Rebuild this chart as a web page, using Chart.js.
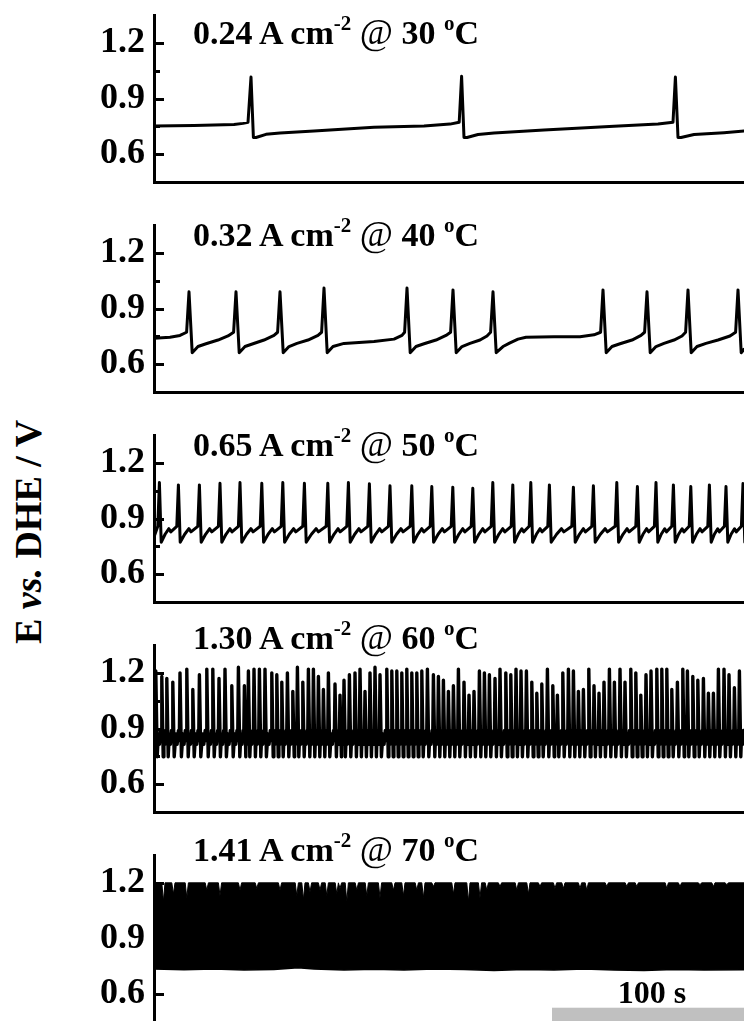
<!DOCTYPE html>
<html>
<head>
<meta charset="utf-8">
<script src="https://cdn.jsdelivr.net/npm/chart.js@4.4.1/dist/chart.umd.min.js"></script>
<style>
  html, body { margin: 0; padding: 0; background: #fff; overflow: hidden; }
  body { width: 744px; height: 1021px; position: relative; font-family: 'Liberation Serif', 'Times New Roman', serif; color: #000; }
  .panel { position: absolute; left: 0; width: 744px; height: 207px; }
  .panel canvas { display: block; }
  .title { position: absolute; left: 193px; font-size: 34px; line-height: 34px; font-weight: bold; white-space: nowrap; z-index: 2; }
  .title sup { font-size: 21px; position: relative; top: -14px; vertical-align: baseline; }
  .title .at { font-weight: normal; font-size: 36px; }
  .ylabel { position: absolute; left: 28px; top: 532px; transform: translate(-50%, -50%) rotate(-90deg);
            font-size: 38px; font-weight: bold; white-space: nowrap; }
</style>
</head>
<body>
<div class="ylabel">E <i>vs.</i> DHE / V</div>
<script>
// ---- axes (time in s, potential in V) ----
const X_MIN = 0, X_MAX = 295;
const Y_MIN = 0.45, Y_MAX = 1.35;
const MAJOR_TICKS = [0.6, 0.9, 1.2];
const MINOR_TICKS = [0.75, 1.05];

// ---- panel labels ----
const currents = ['0.24', '0.32', '0.65', '1.30', '1.41'];
const temps = ['30', '40', '50', '60', '70'];

// ---- 0.24 A cm-2 @ 30 C ----
const p1Time = [0, 20, 40, 44.5, 47, 48.5, 49.7, 51, 56, 63, 80, 110, 135, 148, 152.6,
                153.8, 155, 156.5, 162, 170, 195, 230, 252, 259.5, 260.7, 262, 263.5, 270, 285, 295];
const p1Volt = [0.752, 0.755, 0.76, 0.766, 0.772, 1.016, 0.69, 0.69, 0.707, 0.714, 0.725, 0.745, 0.752, 0.762, 0.772,
                1.02, 0.69, 0.69, 0.706, 0.714, 0.73, 0.75, 0.762, 0.772, 1.016, 0.69, 0.69, 0.706, 0.716, 0.725];

// ---- 0.32 A cm-2 @ 40 C ----
const p2Time = [0, 8, 13, 16.3, 17.5, 19.1,
                22, 26, 32, 37, 39.8, 41, 42.6,
                45.5, 49.5, 55, 60, 61.8, 63, 64.6,
                67.5, 71.5, 77, 82, 83.8, 85, 86.6,
                89.5, 95, 110, 120, 124, 125.3, 126.5, 128.1,
                131, 135, 141, 146, 148.3, 149.5, 151.1,
                154, 158, 163, 166.5, 168.3, 169.5, 171.1,
                174.5, 178, 182, 186, 200, 213, 220, 223.3, 224.5, 226.1,
                229, 233, 239, 243.5, 245.3, 246.5, 248.1,
                251, 255, 260, 264, 265.8, 267, 268.6,
                271.5, 276, 282, 288, 290.8, 292, 293.6, 295];
const p2Volt = [0.74, 0.745, 0.755, 0.772, 0.99, 0.662,
                0.695, 0.71, 0.73, 0.752, 0.772, 0.99, 0.662,
                0.695, 0.71, 0.73, 0.755, 0.772, 0.99, 0.662,
                0.695, 0.712, 0.73, 0.755, 0.772, 1.01, 0.662,
                0.695, 0.712, 0.722, 0.735, 0.755, 0.772, 1.01, 0.662,
                0.695, 0.71, 0.73, 0.755, 0.772, 1.0, 0.662,
                0.695, 0.712, 0.73, 0.752, 0.772, 0.99, 0.662,
                0.695, 0.715, 0.735, 0.745, 0.748, 0.748, 0.758, 0.772, 1.0, 0.662,
                0.695, 0.71, 0.73, 0.755, 0.772, 0.99, 0.662,
                0.695, 0.712, 0.73, 0.752, 0.772, 1.0, 0.662,
                0.695, 0.712, 0.73, 0.752, 0.772, 1.0, 0.662, 0.68];

// ---- 0.65 A cm-2 @ 50 C ----
const p3SpikeTime = [2.7, 12.2, 22.7, 33.0, 43.0, 53.9, 64.4, 75.2, 86.9, 97.2, 107.7, 118.0, 128.9, 138.9, 149.4,
                     159.4, 169.4, 179.4, 188.4, 197.7, 209.7, 219.7, 231.4, 241.7, 251.0, 259.7, 268.4, 277.7, 286.0, 294.5];
const p3SpikePeak = [1.094, 1.081, 1.081, 1.09, 1.094, 1.09, 1.094, 1.09, 1.09, 1.094, 1.087, 1.076, 1.076, 1.072, 1.069,
                     1.063, 1.094, 1.081, 1.094, 1.081, 1.069, 1.076, 1.094, 1.072, 1.094, 1.081, 1.072, 1.081, 1.072, 1.088];
const p3Levels = [0.772, 0.815, 0.845, 0.828, 0.858];   // trough, rise, bump, dip, pre-spike

// ---- 1.30 A cm-2 @ 60 C ----
const p4SpikeTime = [0.9, 3.9, 6.4, 9.4, 13.0, 16.4, 19.4, 22.7, 26.4, 29.4, 32.5, 35.5, 38.9, 42.2, 45.2,
                     47.2, 50.0, 52.7, 55.5, 58.9, 61.4, 63.9, 66.7, 69.4, 71.7, 74.4, 77.2, 79.7, 82.2, 84.7,
                     87.2, 90.5, 93.0, 95.0, 97.7, 100.5, 103.0, 105.5, 108.0, 110.5, 113.0, 116.4, 118.9, 121.4, 123.9,
                     126.4, 128.9, 131.4, 133.9, 136.7, 139.7, 142.2,
                     144.7, 147.2, 149.7, 152.2, 155.0, 157.5, 160.0, 162.7, 165.2, 167.7, 170.5, 173.0, 175.9, 178.4, 181.0,
                     183.5, 186.2, 188.9, 191.4, 193.9, 196.7, 199.4, 201.7, 204.4, 207.2, 209.7, 212.2, 214.7, 217.4, 220.0,
                     222.5, 225.0, 227.7, 230.2, 233.0, 235.5, 238.4, 240.9, 243.4, 246.0, 248.5, 251.4, 253.9, 256.4, 258.9,
                     261.7, 264.4, 266.7, 269.4, 271.9, 274.7, 277.2, 279.7, 282.2, 285.0, 287.5, 290.2, 292.7];
const p4SpikePeak = [1.21, 1.18, 1.17, 1.15, 1.20, 1.22, 1.11, 1.19, 1.22, 1.22, 1.17, 1.22, 1.13, 1.23, 1.13,
                     1.21, 1.22, 1.22, 1.22, 1.20, 1.19, 1.15, 1.20, 1.10, 1.23, 1.15, 1.22, 1.22, 1.18, 1.11,
                     1.20, 1.14, 1.08, 1.16, 1.19, 1.20, 1.22, 1.10, 1.20, 1.23, 1.19, 1.22, 1.21, 1.21, 1.20,
                     1.22, 1.20, 1.20, 1.21, 1.22, 1.19, 1.18,
                     1.16, 1.10, 1.13, 1.22, 1.15, 1.08, 1.10, 1.21, 1.20, 1.19, 1.17, 1.22, 1.20, 1.19, 1.22,
                     1.21, 1.21, 1.15, 1.09, 1.14, 1.22, 1.13, 1.08, 1.20, 1.22, 1.21, 1.10, 1.11, 1.22, 1.13,
                     1.09, 1.15, 1.22, 1.15, 1.22, 1.15, 1.22, 1.20, 1.08, 1.19, 1.21, 1.22, 1.22, 1.22, 1.11,
                     1.15, 1.22, 1.21, 1.18, 1.16, 1.17, 1.09, 1.09, 1.22, 1.22, 1.19, 1.12, 1.21];
const p4Levels = [0.748, 0.87, 0.815, 0.89, 0.835];   // trough, rise, dip, shoulder, pre-spike

// ---- 1.41 A cm-2 @ 70 C (envelope of the dense oscillation) ----
const P5_TOP = 1.2;
const p5DipTime = [4.7, 9.7, 16.4, 26.4, 33.0, 43.0, 51.4, 63.0, 71.4, 74.7, 78.0, 83.0, 86.4, 91.4, 93.0, 96.4,
                   101.4, 106.4, 113.0, 119.7, 124.7, 131.4, 134.7, 139.7,
                   149.7, 157.2, 163.0, 166.4, 173.0, 181.4, 187.2, 193.0, 200.5, 204.7, 213.0, 216.4, 226.4, 236.4,
                   241.4, 256.4, 263.0, 273.0, 279.7, 286.4];
const p5DipVolt = [1.10, 1.14, 1.12, 1.16, 1.13, 1.16, 1.17, 1.16, 1.13, 1.11, 1.15, 1.16, 1.13, 1.14, 1.17, 1.10,
                   1.16, 1.13, 1.12, 1.16, 1.13, 1.16, 1.12, 1.18,
                   1.14, 1.10, 1.12, 1.16, 1.18, 1.16, 1.14, 1.18, 1.17, 1.17, 1.17, 1.16, 1.18, 1.18,
                   1.18, 1.17, 1.18, 1.19, 1.18, 1.19];
const p5LowTime = [0, 15, 30, 45, 60, 72, 80, 95, 110, 125, 140, 155, 170, 185, 200, 215, 230, 245, 260, 275, 295];
const p5LowVolt = [0.735, 0.732, 0.735, 0.73, 0.733, 0.742, 0.735, 0.73, 0.734, 0.73, 0.735, 0.733, 0.728, 0.733,
                   0.73, 0.735, 0.73, 0.728, 0.733, 0.73, 0.732];

// ---- scale bar ----
const BAR_START = 199, BAR_LENGTH = 100, BAR_TOP = 0.527, BAR_LABEL = '100 s';

// ---------------------------------------------------------------
const zip = (xs, ys) => xs.map((x, i) => ({ x: x, y: ys[i] }));

function buildP3() {
    const pts = [{ x: 0, y: 0.80 }, { x: 1.9, y: p3Levels[4] }];
    p3SpikeTime.forEach((t, i) => {
        const next = i + 1 < p3SpikeTime.length ? p3SpikeTime[i + 1] : t + 10;
        const g = next - t;
        pts.push({ x: t, y: p3SpikePeak[i] });
        pts.push({ x: t + 0.9, y: p3Levels[0] });
        pts.push({ x: t + 0.3 * g, y: p3Levels[1] });
        pts.push({ x: t + 0.5 * g, y: p3Levels[2] });
        pts.push({ x: t + 0.6 * g, y: p3Levels[3] });
        pts.push({ x: next - 0.8, y: p3Levels[4] });
    });
    return pts;
}

function buildP4() {
    const pts = [{ x: 0, y: 0.86 }];
    p4SpikeTime.forEach((t, i) => {
        const next = i + 1 < p4SpikeTime.length ? p4SpikeTime[i + 1] : t + 2.6;
        const g = next - t;
        pts.push({ x: t, y: p4SpikePeak[i] });
        pts.push({ x: t + 0.7, y: p4Levels[0] });
        pts.push({ x: t + 0.42 * g, y: p4Levels[1] });
        pts.push({ x: t + 0.6 * g, y: p4Levels[2] });
        pts.push({ x: t + 0.78 * g, y: p4Levels[3] });
        pts.push({ x: next - 0.35, y: p4Levels[4] });
    });
    return pts;
}

function buildP5Top() {
    const pts = [{ x: X_MIN, y: P5_TOP }];
    p5DipTime.forEach((t, i) => {
        pts.push({ x: t - 0.8, y: P5_TOP }, { x: t, y: p5DipVolt[i] }, { x: t + 0.8, y: P5_TOP });
    });
    pts.push({ x: X_MAX, y: P5_TOP });
    return pts;
}

const line = (data, width) => ({
    data: data, borderColor: '#000', borderWidth: width, pointRadius: 0,
    borderJoinStyle: 'round', borderCapStyle: 'round', tension: 0, fill: false
});

const panelData = [
    [line(zip(p1Time, p1Volt), 3)],
    [line(zip(p2Time, p2Volt), 3)],
    [line(buildP3(), 3)],
    [line(buildP4(), 3.4)],
    [Object.assign(line(buildP5Top(), 1), { fill: '+1', backgroundColor: '#000' }),
     line(zip(p5LowTime, p5LowVolt), 1.5)]
];

// inward tick marks on the left axis
const innerTicks = {
    id: 'innerTicks',
    afterDraw(chart) {
        const { ctx, chartArea } = chart;
        const y = chart.scales.y;
        const x0 = chartArea.left;
        ctx.save();
        ctx.strokeStyle = '#000';
        ctx.lineWidth = 3;
        const mark = (v, len) => {
            const py = Math.round(y.getPixelForValue(v)) + 0.5;
            ctx.beginPath();
            ctx.moveTo(x0, py);
            ctx.lineTo(x0 + len, py);
            ctx.stroke();
        };
        MAJOR_TICKS.forEach(v => mark(v, 10));
        MINOR_TICKS.forEach(v => mark(v, 6));
        ctx.restore();
    }
};

const scaleBar = {
    id: 'scaleBar',
    afterDraw(chart) {
        const { ctx, chartArea } = chart;
        const x = chart.scales.x, y = chart.scales.y;
        const x1 = x.getPixelForValue(BAR_START);
        const x2 = x.getPixelForValue(BAR_START + BAR_LENGTH);
        const top = y.getPixelForValue(BAR_TOP);
        ctx.save();
        ctx.fillStyle = '#c0c0c0';
        ctx.fillRect(x1, top, x2 - x1, chartArea.bottom + 20 - top);
        ctx.fillStyle = '#000';
        ctx.font = 'bold 32px "Liberation Serif"';
        ctx.textAlign = 'center';
        ctx.textBaseline = 'alphabetic';
        ctx.fillText(BAR_LABEL, (x1 + x2) / 2, top - 5);
        ctx.restore();
    }
};

const titleBaseline = [43, 245, 455, 648, 860];

panelData.forEach((datasets, i) => {
    const areaTop = 15 + 210 * i;
    const div = document.createElement('div');
    div.className = 'panel';
    div.style.top = (areaTop - 20) + 'px';
    const canvas = document.createElement('canvas');
    canvas.width = 744;
    canvas.height = 207;
    div.appendChild(canvas);
    document.body.appendChild(div);

    const title = document.createElement('div');
    title.className = 'title';
    title.style.top = (titleBaseline[i] - 28) + 'px';
    title.innerHTML = currents[i] + ' A cm<sup>-2</sup> <span class="at">@</span> ' + temps[i] + ' <sup>o</sup>C';
    document.body.appendChild(title);

    new Chart(canvas, {
        type: 'line',
        data: { datasets: datasets },
        options: {
            responsive: false,
            animation: false,
            events: [],
            layout: { padding: { top: 20, bottom: 20, left: 0, right: 0 } },
            plugins: { legend: { display: false }, tooltip: { enabled: false } },
            scales: {
                x: {
                    type: 'linear', min: X_MIN, max: X_MAX,
                    ticks: { display: false },
                    grid: { display: false, drawTicks: false },
                    border: { display: true, color: '#000', width: 3 },
                    afterFit: s => { s.height = 0; s.paddingLeft = 0; s.paddingRight = 0; }
                },
                y: {
                    type: 'linear', min: Y_MIN, max: Y_MAX,
                    afterBuildTicks: s => { s.ticks = MAJOR_TICKS.map(v => ({ value: v })); },
                    ticks: {
                        color: '#000', padding: 9,
                        font: { family: 'Liberation Serif', size: 36, weight: 'bold' },
                        callback: v => v.toFixed(1)
                    },
                    grid: { display: false, drawTicks: false },
                    border: { display: true, color: '#000', width: 3 },
                    afterFit: s => { s.width = 154; s.paddingTop = 0; s.paddingBottom = 0; }
                }
            }
        },
        plugins: i === 4 ? [innerTicks, scaleBar] : [innerTicks]
    });
});
</script>
</body>
</html>
